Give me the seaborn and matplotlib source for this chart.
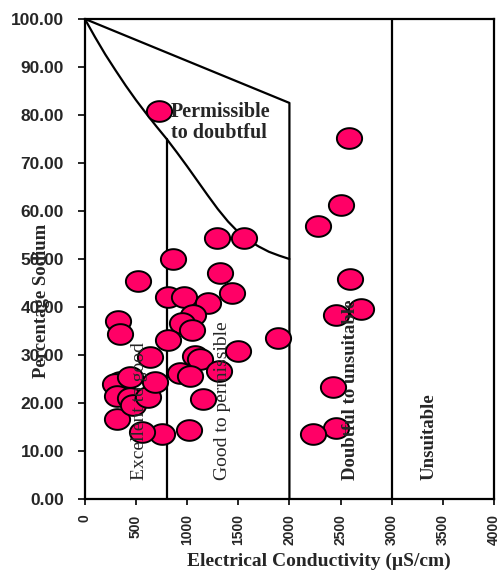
import numpy as np
import pandas as pd
import matplotlib
matplotlib.use("Agg")
import matplotlib.pyplot as plt
import seaborn as sns
from matplotlib.path import Path

# Sample values
ec = [725, 863, 1294, 1559, 1324, 520, 814, 971, 1206, 1441, 1059, 951, 1049,
      324, 340, 814, 1500, 637, 1078, 1127, 931, 1029, 1307, 1160, 1020, 755,
      556, 314, 343, 294, 441, 314, 441, 471, 618, 686, 1892,
      2578, 2500, 2275, 2588, 2696, 2451, 2422, 2451, 2235]
na = [80.8, 50.0, 54.4, 54.4, 47.1, 45.4, 42.1, 42.1, 40.8, 42.9, 38.3, 36.7, 35.2,
      37.1, 34.4, 33.1, 30.8, 29.6, 29.8, 29.2, 26.2, 25.6, 26.7, 20.8, 14.4, 13.5,
      13.9, 16.7, 24.4, 24.0, 25.4, 21.5, 21.0, 19.6, 21.3, 24.4, 33.5,
      75.2, 61.2, 56.9, 45.8, 39.6, 38.3, 23.3, 14.8, 13.5]

# class boundaries
upper_ec = [0, 2000, 2000]
upper_na = [100, 82.5, 0]
curve_ec = [0, 100, 200, 300, 400, 500, 600, 700, 800, 900, 1000, 1100, 1200,
            1300, 1400, 1500, 1600, 1700, 1800, 1900, 2000]
curve_na = [100, 96.2, 92.6, 89.3, 86.1, 83.1, 80.3, 77.6, 75.0, 72.2, 69.3, 66.3,
            63.3, 60.4, 57.8, 55.6, 53.9, 52.6, 51.5, 50.7, 50.0]
good_ec = [800, 800]
good_na = [0, 75]
unsuit_ec = [3000, 3000]
unsuit_na = [0, 100]

zone_labels = ["Excellent to good", "Good to permissible", "Doubtful to unsuitable", "Unsuitable"]
zone_x = [539, 1343, 2598, 3363]
zone_bold = [False, False, True, True]
zone_size = [14, 14, 13.5, 13.5]

x_ticks = list(range(0, 4001, 500))
y_ticks = list(range(0, 101, 10))

df = pd.DataFrame({"EC": ec, "Na": na})

sns.set_style("white")
serif = ["Liberation Serif", "DejaVu Serif"]
sans = ["Liberation Sans", "DejaVu Sans"]

fig = plt.figure(figsize=(4.99, 5.73), dpi=100)
ax = fig.add_axes([0.170, 0.129, 0.820, 0.838])

# ellipse marker, a little wider than tall
t = np.linspace(0, 2 * np.pi, 60)
ellipse = Path(np.column_stack([np.cos(t), 0.82 * np.sin(t)]), closed=True)

for xs, ys in [(upper_ec, upper_na), (curve_ec, curve_na), (good_ec, good_na), (unsuit_ec, unsuit_na)]:
    ax.plot(xs, ys, color="black", lw=1.6, zorder=2)

sns.scatterplot(data=df, x="EC", y="Na", ax=ax, marker=ellipse, s=330,
                color="#FF0066", edgecolor="black", linewidth=1.4, zorder=3)

for lab, xpos, bold, fs in zip(zone_labels, zone_x, zone_bold, zone_size):
    ax.text(xpos, 4, lab, rotation=90, ha="center", va="bottom", fontsize=fs,
            family=serif, fontweight="bold" if bold else "normal", zorder=4)

ax.text(843, 82.6, "Permissible\nto doubtful", ha="left", va="top", fontsize=14.5,
        family=serif, fontweight="bold", linespacing=1.05, zorder=4)

ax.set_xlim(0, 4000)
ax.set_ylim(0, 100)
ax.set_xticks(x_ticks)
ax.set_yticks(y_ticks)
ax.set_xticklabels([str(v) for v in x_ticks], rotation=90, fontsize=10,
                   family=sans, fontweight="bold")
ax.set_yticklabels([f"{v:.2f}" for v in y_ticks], fontsize=12.5,
                   family=sans, fontweight="bold")
ax.tick_params(axis="x", direction="out", length=4, width=1.4, pad=7, bottom=True)
ax.tick_params(axis="y", direction="out", length=5, width=1.4, pad=10, left=True)

for sp in ax.spines.values():
    sp.set_color("black")
    sp.set_linewidth(1.6)

ax.set_xlabel("Electrical Conductivity (µS/cm)", fontsize=14, family=serif, fontweight="bold")
ax.xaxis.set_label_coords(0.572, -0.112)
ax.set_ylabel("Percentage Sodium", fontsize=13.5, family=serif, fontweight="bold")
ax.yaxis.set_label_coords(-0.086, 0.412)

fig.savefig("out.png", dpi=100)
